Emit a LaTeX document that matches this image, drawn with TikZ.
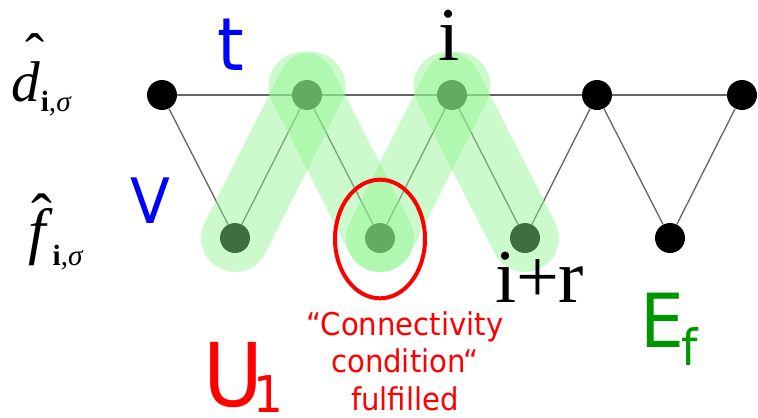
\RequirePackage{fix-cm}
\documentclass[tikz,border=0pt]{standalone}
\usepackage{fontspec}
\setmainfont{Liberation Serif}
\newfontfamily\lab[FakeStretch=0.93]{DejaVu Sans}
\usetikzlibrary{shapes.geometric}
\definecolor{bandgreen}{RGB}{142,245,142}
\definecolor{efgreen}{RGB}{0,150,0}
\tikzset{
 site/.style={circle,fill=black,inner sep=0pt,minimum size=22.5pt},
 bond/.style={draw=black!60,line width=1pt},
 band/.style={draw=bandgreen,draw opacity=0.45,line width=51pt,line cap=round},
 ring/.style={draw=red,line width=3pt,ellipse,minimum width=67.5pt,minimum height=89pt,inner sep=0pt},
 lbl/.style={inner sep=0pt,outer sep=0pt},
}
\begin{document}
\begin{tikzpicture}[x=0.75pt,y=-0.75pt]
\useasboundingbox (0,0) rectangle (758,418);
% sites
\node[site] (d1) at (162,95) {};
\node[site] (d2) at (307,95) {};
\node[site] (d3) at (452,95) {};
\node[site] (d4) at (597,95) {};
\node[site] (d5) at (742,95) {};
\node[site] (f1) at (235,238) {};
\node[site] (f2) at (380,238) {};
\node[site] (f3) at (525,238) {};
\node[site] (f4) at (670,238) {};
% bonds
\draw[bond] (d1) -- (d2) -- (d3) -- (d4) -- (d5);
\draw[bond] (d1) -- (f1) -- (d2) -- (f2) -- (d3) -- (f3) -- (d4) -- (f4) -- (d5);
% green bands
\draw[band,shorten >=-7.5pt] (f1.center) -- (d2.center);
\draw[band,shorten <=-7.5pt] (d2.center) -- (f2.center);
\draw[band,shorten >=-7.5pt] (f2.center) -- (d3.center);
\draw[band,shorten <=-7.5pt] (d3.center) -- (f3.center);
% red ring
\node[ring] (ring) at (380,239) {};
% labels
\node[lbl,anchor=base west] (dlab) at (12,101) {\fontsize{43}{43}\selectfont\makebox[0pt][l]{\hspace{10.5pt}\raisebox{21pt}{ˆ}}\textit{d}\raisebox{-8pt}{\fontsize{22}{22}\selectfont\textbf{i},\textit{σ}}};
\node[lbl,anchor=base west] (flab) at (28,252) {\fontsize{47}{47}\selectfont\makebox[0pt][l]{\hspace{2.5pt}\raisebox{11pt}{ˆ}}\textit{f}\raisebox{-10pt}{\fontsize{22}{22}\selectfont\textbf{i},\textit{σ}}};
\node[lbl,anchor=base west,text=blue] (tlab) at (217,70) {\lab\fontsize{55}{55}\selectfont t};
\node[lbl,anchor=base west,text=blue] (vlab) at (130,223) {\lab\fontsize{47}{47}\selectfont V};
\node[lbl,anchor=base] (ilab) at (449,60) {\fontsize{57}{57}\selectfont i};
\node[lbl,anchor=base west] (irlab) at (495,302) {\fontsize{57}{57}\selectfont i+r};
\node[lbl,anchor=base west,text=efgreen] (eflab) at (640,347) {\lab\fontsize{56}{56}\selectfont E\kern-2pt\raisebox{-13.5pt}{\fontsize{37.5}{37.5}\selectfont f}};
\node[lbl,anchor=base west,text=red] (ulab) at (203,406) {\lab\fontsize{66}{66}\selectfont U\kern-7pt\raisebox{-5pt}{\fontsize{38}{38}\selectfont 1}};
\node[lbl,anchor=base,align=center,text=red,font={\lab\fontsize{23.5}{28}\selectfont}] (cond) at (405,410) {“Connectivity\\condition“\\fulfilled};
\end{tikzpicture}
\end{document}
